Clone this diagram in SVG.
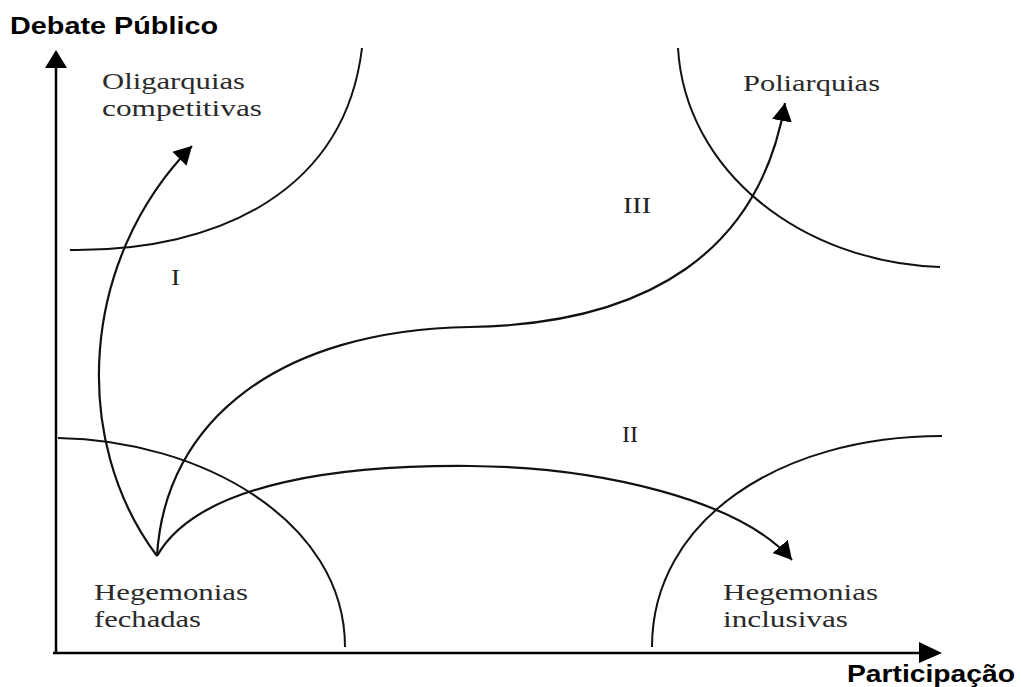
<svg xmlns="http://www.w3.org/2000/svg" width="1021" height="687" viewBox="0 0 1021 687">
<style>
.ax{fill:none;stroke:#000;stroke-width:2.5}
.bd{fill:none;stroke:#111;stroke-width:2}
.ar{fill:none;stroke:#111;stroke-width:2.2}
.lbl{font-family:"Liberation Serif","Times New Roman",serif;font-size:24px;fill:#2a2a2a}
.rom{font-family:"Liberation Serif","Times New Roman",serif;font-size:24px;fill:#222}
.axl{font-family:"Liberation Sans",Arial,sans-serif;font-weight:bold;font-size:23px;fill:#000}
</style>
<defs>
<marker id="ah" markerUnits="userSpaceOnUse" markerWidth="20" markerHeight="22" refX="18" refY="10" orient="auto">
<path d="M0,0 L18,10 L0,20 z" fill="#000"/>
</marker>
</defs>
<rect width="1021" height="687" fill="#fff"/>
<g id="axes">
<line class="ax" x1="56" y1="653" x2="56" y2="64"/>
<polygon points="56,50 45,68 67,68" fill="#000"/>
<line class="ax" x1="53" y1="653" x2="922" y2="653"/>
<polygon points="942,653 919,642 919,663" fill="#000"/>
<text class="axl" x="10" y="34" textLength="208" lengthAdjust="spacingAndGlyphs">Debate Público</text>
<text class="axl" x="847" y="682" textLength="168" lengthAdjust="spacingAndGlyphs">Participação</text>
</g>
<g id="boundaries">
<path id="b-olig" class="bd" d="M70,250 C220,252 345,190 362,48"/>
<path id="b-poli" class="bd" d="M678,48 C685,170 800,262 940,267"/>
<path id="b-hfech" class="bd" d="M58,438 C200,440 345,520 345,647"/>
<path id="b-hincl" class="bd" d="M652,647 C652,520 780,436 942,436"/>
</g>
<g id="node-oligarquias">
<text class="lbl" x="102" y="89" textLength="143" lengthAdjust="spacingAndGlyphs">Oligarquias</text>
<text class="lbl" x="102" y="116" textLength="160" lengthAdjust="spacingAndGlyphs">competitivas</text>
</g>
<g id="node-poliarquias">
<text class="lbl" x="743" y="91" textLength="137" lengthAdjust="spacingAndGlyphs">Poliarquias</text>
</g>
<g id="node-hfechadas">
<text class="lbl" x="94" y="600" textLength="154" lengthAdjust="spacingAndGlyphs">Hegemonias</text>
<text class="lbl" x="94" y="627" textLength="107" lengthAdjust="spacingAndGlyphs">fechadas</text>
</g>
<g id="node-hinclusivas">
<text class="lbl" x="723" y="600" textLength="155" lengthAdjust="spacingAndGlyphs">Hegemonias</text>
<text class="lbl" x="723" y="627" textLength="125" lengthAdjust="spacingAndGlyphs">inclusivas</text>
</g>
<g id="roman">
<text class="rom" x="171" y="285" textLength="9" lengthAdjust="spacingAndGlyphs">I</text>
<text class="rom" x="623" y="213" textLength="28" lengthAdjust="spacingAndGlyphs">III</text>
<text class="rom" x="622" y="442" textLength="16" lengthAdjust="spacingAndGlyphs">II</text>
</g>
<g id="connectors">
<path class="ar" d="M157,556 C70,440 80,260 192,146" marker-end="url(#ah)"/>
<path class="ar" d="M157,556 C165,420 280,330 470,327 C650,324 760,250 785,103" marker-end="url(#ah)"/>
<path class="ar" d="M157,556 C200,480 350,465 470,466 C600,467 740,500 792,560" marker-end="url(#ah)"/>
</g>
</svg>
